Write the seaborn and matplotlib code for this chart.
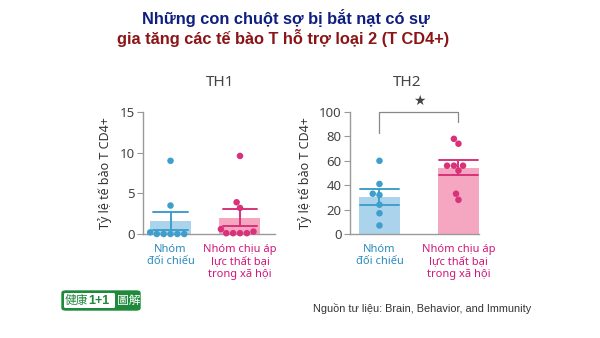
import numpy as np
import pandas as pd
import matplotlib
matplotlib.use("Agg")
import matplotlib.pyplot as plt
import seaborn as sns
from matplotlib.patches import FancyBboxPatch

sns.set_theme(style="white")
plt.rcParams['font.family'] = ['Noto Sans', 'DejaVu Sans']

# ---- data ----
groups = ["Nhóm\nđối chiếu", "Nhóm chịu áp\nlực thất bại\ntrong xã hội"]
th1_control = [9.0, 3.5, 0.0, 0.0, 0.0, 0.0, 0.0, 0.2]
th1_stress = [9.6, 3.9, 3.2, 0.1, 0.1, 0.1, 0.1, 0.3, 0.6]
th2_control = [60, 41, 33, 32, 24, 17, 7]
th2_stress = [78, 74, 56, 56, 56, 52, 33, 28]
panel_titles = ["TH1", "TH2"]
ylims = [15, 100]
yticks = [[0, 5, 10, 15], [0, 20, 40, 60, 80, 100]]
ylabel = "Tỷ lệ tế bào T CD4+"
title1 = "Những con chuột sợ bị bắt nạt có sự"
title2 = "gia tăng các tế bào T hỗ trợ loại 2 (T CD4+)"
source = "Nguồn tư liệu: Brain, Behavior, and Immunity"

bar_colors = ["#acd3ec", "#f5a6c1"]
dot_colors = ["#3f9fcc", "#d8337a"]
label_colors = ["#2b8bbd", "#d0187a"]

def make_df(c, s):
    return pd.DataFrame({"group": [groups[0]] * len(c) + [groups[1]] * len(s),
                         "value": list(c) + list(s)})

dfs = [make_df(th1_control, th1_stress), make_df(th2_control, th2_stress)]

fig = plt.figure(figsize=(6, 3.38), dpi=100)
fig.patch.set_facecolor("white")

W, H = 600, 338
ax1 = fig.add_axes([143 / W, 1 - 234 / H, 132 / W, 122 / H])
ax2 = fig.add_axes([350 / W, 1 - 234 / H, 129 / W, 122 / H])
axes = [ax1, ax2]
xlims = [(-0.396, 1.504), (-0.373, 1.26)]
widths = [0.59, 0.52]

for i, ax in enumerate(axes):
    df = dfs[i]
    sns.barplot(data=df, x="group", y="value", hue="group", order=groups,
                hue_order=groups, palette=bar_colors, errorbar="se",
                capsize=0.5, width=widths[i], legend=False, ax=ax,
                err_kws={"linewidth": 1.4}, saturation=1, linewidth=0)
    for ln in ax.lines:
        xs = np.asarray(ln.get_xdata(), dtype=float)
        ln.set_color(dot_colors[0] if np.nanmean(xs) < 0.5 else dot_colors[1])
        ln.set_zorder(4)
    sns.swarmplot(data=df, x="group", y="value", hue="group", order=groups,
                  hue_order=groups, palette=dot_colors, size=4.7, linewidth=0,
                  legend=False, ax=ax, zorder=5, clip_on=False)
    ax.set_xlim(*xlims[i])
    ax.set_ylim(0, ylims[i])
    ax.set_yticks(yticks[i])
    ax.tick_params(axis="y", left=True, length=4, width=0.8, color="#999999",
                   labelsize=9.5, labelcolor="#444444", pad=2)
    ax.tick_params(axis="x", bottom=False, length=0, pad=7)
    ax.set_xticks([0, 1])
    ax.set_xticklabels(groups, fontsize=8, fontweight="medium")
    for lab, col in zip(ax.get_xticklabels(), label_colors):
        lab.set_color(col)
        lab.set_linespacing(1.2)
        lab.set_verticalalignment("top")
    for s in ["top", "right"]:
        ax.spines[s].set_visible(False)
    for s in ["left", "bottom"]:
        ax.spines[s].set_color("#9a9a9a")
        ax.spines[s].set_linewidth(1.0)
    ax.set_facecolor("none")
    ax.set_xlabel("")
    ax.set_ylabel(ylabel, fontsize=9, color="#333333", labelpad=5)

# Panel titles
fig.text(220 / W, 1 - 83 / H, panel_titles[0], ha="center", va="center",
         fontsize=11, color="#444444")
fig.text(407 / W, 1 - 83 / H, panel_titles[1], ha="center", va="center",
         fontsize=11, color="#444444")

# Significance bracket on TH2
ax2.plot([0, 0, 1, 1], [83, 100, 100, 92], color="#888888", lw=0.9,
         clip_on=False, zorder=6)
ax2.text(0.5, 109, "★", ha="center", va="center", fontsize=10,
         color="#444444", family=["DejaVu Sans"], clip_on=False)

# Main title
fig.text(286 / W, 1 - 18 / H, title1, ha="center", va="center", fontsize=11.8,
         fontweight="bold", color="#0f1f80", family=["Liberation Sans", "DejaVu Sans"])
fig.text(283 / W, 1 - 38 / H, title2, ha="center", va="center", fontsize=11.8,
         fontweight="bold", color="#8a1416", family=["Liberation Sans", "DejaVu Sans"])

# Source
fig.text(313 / W, 1 - 308 / H, source, ha="left", va="center", fontsize=7.8,
         color="#333333", family=["Liberation Sans", "DejaVu Sans"])

# Logo
logo = FancyBboxPatch((62 / W, 1 - 310 / H), 78 / W, 19 / H,
                      boxstyle="round,pad=0,rounding_size=0.006",
                      transform=fig.transFigure, facecolor="#1f8a3c",
                      edgecolor="#1f8a3c", lw=1)
fig.patches.append(logo)
inner = FancyBboxPatch((64 / W, 1 - 308 / H), 51 / W, 15 / H,
                       boxstyle="round,pad=0,rounding_size=0.003",
                       transform=fig.transFigure, facecolor="white",
                       edgecolor="none")
fig.patches.append(inner)
fig.text(65 / W, 1 - 300.5 / H, "健康", ha="left", va="center", fontsize=8.5,
         color="#1f8a3c", family=["Noto Sans CJK TC", "DejaVu Sans"])
fig.text(88 / W, 1 - 300.5 / H, "1+1", ha="left", va="center", fontsize=9,
         fontweight="bold", color="#1f8a3c", family=["Liberation Sans", "DejaVu Sans"])
fig.text(117 / W, 1 - 300.5 / H, "圖解", ha="left", va="center", fontsize=8.5,
         color="white", family=["Noto Sans CJK TC", "DejaVu Sans"])

fig.savefig("out.png", dpi=100)
